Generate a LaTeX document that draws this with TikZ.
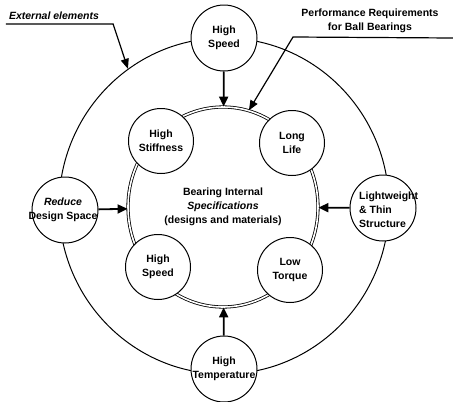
\documentclass[tikz,border=0pt]{standalone}
\usepackage{fontspec}
\setmainfont{Liberation Sans}
\usepackage{tikz}
\usetikzlibrary{positioning,arrows.meta,shapes.geometric}

\begin{document}
\begin{tikzpicture}[x=1pt, y=-1pt,
  bub/.style={draw, circle, fill=white, line width=1pt, minimum size=66pt, inner sep=0pt},
  txt/.style={font=\fontsize{10.5}{13.8}\selectfont\bfseries, align=center, inner sep=0pt},
  arr/.style={-{Triangle[length=10pt, width=9pt]}, line width=1.8pt},
  lead/.style={-{Triangle[length=10pt, width=8pt]}, line width=1.2pt}
]
\useasboundingbox (0,0) rectangle (453,402);
% rings
\node[draw, ellipse, line width=1pt, minimum width=330pt, minimum height=336pt, inner sep=0pt] (ext) at (224,206) {};
\node[draw, ellipse, double, double distance=1.6pt, line width=0.8pt, minimum width=190pt, minimum height=200pt, inner sep=0pt,
  txt] (spec) at (223,207) {Bearing Internal\\ \textit{Specifications}\\ (designs and materials)};
% external elements
\node[bub] (top) at (224,38) {};
\node[txt] (top-t) at (top) {High\\ Speed};
\node[bub] (lft) at (65,210) {};
\node[txt] (lft-t) at (63,210) {\textit{Reduce}\\ Design Space};
\node[bub] (rgt) at (383,208) {};
\node[txt, align=left, anchor=west] (rgt-t) at (359,210) {Lightweight\\ \& Thin\\ Structure};
\node[bub] (bot) at (224,369) {};
\node[txt] (bot-t) at (bot) {High\\ Temperature};
% requirements
\node[bub, minimum size=65pt] (stf) at (161,141) {};
\node[txt] (stf-t) at (stf) {High\\ Stiffness};
\node[bub, minimum size=65pt] (life) at (292,143) {};
\node[txt] (life-t) at (life) {Long\\ Life};
\node[bub, minimum size=65pt] (spd) at (158,267) {};
\node[txt] (spd-t) at (spd) {High\\ Speed};
\node[bub, minimum size=65pt] (trq) at (290,270) {};
\node[txt] (trq-t) at (trq) {Low\\ Torque};
\draw[arr] (top) -- (spec);
\draw[arr] (lft) -- (spec);
\draw[arr] (rgt) -- (spec);
\draw[arr] (bot) -- (spec);
% callouts
\node[txt, font=\fontsize{10.5}{13.8}\selectfont\bfseries\itshape] (extl) at (54,16) {External elements};
\draw[lead] ([xshift=-3pt, yshift=-4pt]extl.south west) -- ([xshift=14pt, yshift=-4pt]extl.south east) -- (ext.125);
\node[txt] (req) at (370,21) {Performance Requirements\\ for Ball Bearings};
\coordinate (reqend) at (453,38);
\draw[lead] (reqend) -- (293,37) -- (spec.75);
\end{tikzpicture}
\end{document}
